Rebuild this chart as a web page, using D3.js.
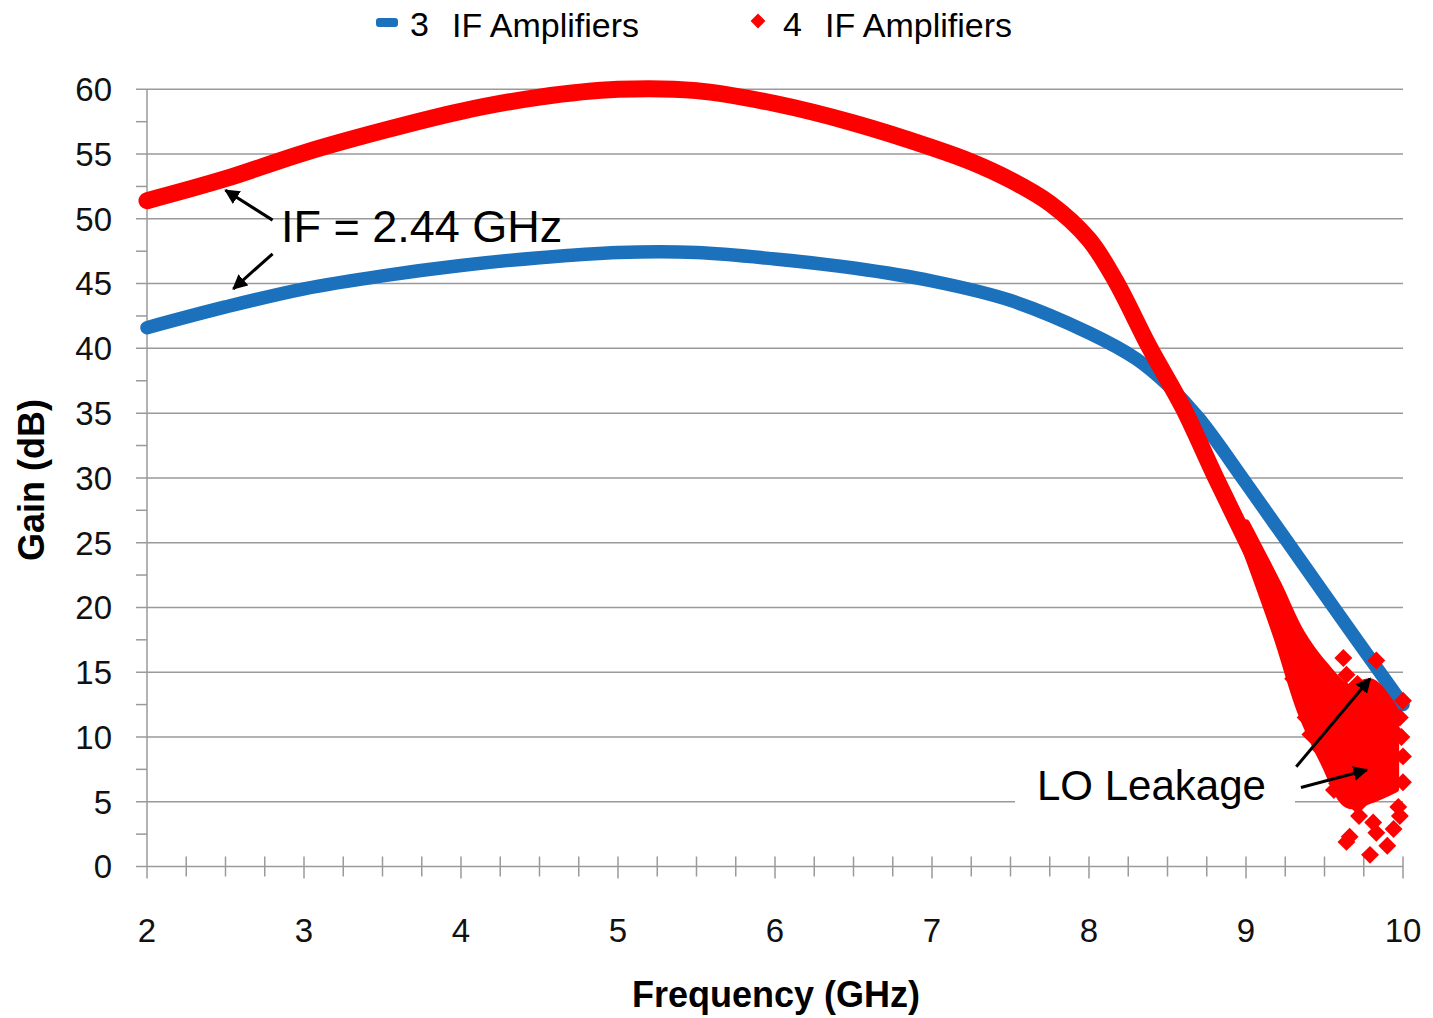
<!DOCTYPE html>
<html>
<head>
<meta charset="utf-8">
<script src="https://cdn.jsdelivr.net/npm/d3@7"></script>
<style>
  body { margin: 0; background: #fff; }
  text { font-family: "Liberation Sans", Arial, sans-serif; }
</style>
</head>
<body>
<svg></svg>
<script>
// 3 IF amplifiers (blue line)
var freq3 = [2.0, 2.5, 3.0, 3.5, 4.0, 4.5, 5.0, 5.5, 6.0, 6.5, 7.0, 7.5, 8.0, 8.3, 8.5, 8.7, 9.0, 9.5, 10.0];
var gain3 = [41.6, 43.2, 44.6, 45.6, 46.4, 47.0, 47.4, 47.4, 46.9, 46.2, 45.2, 43.7, 41.2, 39.2, 37.2, 34.6, 29.6, 21.0, 12.5];

// 4 IF amplifiers (red diamonds, dense band)
var freq4 = [2.0, 2.5, 3.0, 3.5, 4.0, 4.5, 5.0, 5.5, 6.0, 6.5, 7.0, 7.25, 7.5, 7.75, 8.0, 8.17, 8.38, 8.6, 8.8, 9.0, 9.2, 9.35, 9.5];
var gain4 = [51.4, 53.1, 55.1, 56.8, 58.3, 59.4, 60.0, 59.9, 58.9, 57.4, 55.5, 54.4, 53.0, 51.2, 48.4, 45.2, 40.2, 35.4, 30.2, 25.2, 20.3, 16.5, 13.0];

// spread of the red band near the end
var tailFreq = [9.0, 9.2, 9.35, 9.5, 9.65, 9.8, 9.95];
var tailHigh = [26.5, 21.8, 18.0, 15.5, 13.8, 14.2, 12.0];
var tailLow = [24.5, 17.7, 12.0, 8.0, 4.8, 5.2, 6.0];

// scattered points (LO leakage)
var leakFreq = [9.62, 9.64, 9.71, 9.83, 10.0, 9.9, 9.98, 9.41, 9.47, 9.54, 9.56, 9.6, 9.58, 9.68, 9.71, 9.72, 9.81, 9.83, 9.66, 9.64, 9.79, 9.9, 9.94, 9.98, 9.97, 10.0, 10.0, 9.99, 9.86, 9.75, 9.92, 9.88, 9.7, 9.77, 9.85, 9.94, 9.38, 9.45, 9.52, 9.3, 9.26];
var leakGain = [16.1, 14.8, 14.1, 15.9, 12.8, 12.0, 11.5, 10.2, 9.1, 8.3, 5.9, 7.0, 6.4, 5.2, 4.7, 3.9, 3.4, 2.6, 2.3, 1.9, 0.9, 1.6, 2.9, 3.9, 4.6, 6.5, 8.5, 10.0, 6.0, 6.8, 8.0, 9.5, 9.0, 11.0, 12.5, 10.5, 11.5, 12.8, 10.8, 14.5, 17.2];

var xTicks = [2, 3, 4, 5, 6, 7, 8, 9, 10];
var yTicks = [0, 5, 10, 15, 20, 25, 30, 35, 40, 45, 50, 55, 60];
var seriesNames = ["3  IF Amplifiers", "4  IF Amplifiers"];

var svgWidth = 1433, svgHeight = 1018;
var blue = "#1b71bc", red = "#ff0000";

var svg = d3.select("svg")
  .attr("width", svgWidth)
  .attr("height", svgHeight);

var x = d3.scaleLinear().domain([2, 10]).range([147, 1403]);
var y = d3.scaleLinear().domain([0, 60]).range([866.5, 89.3]);

// gridlines
svg.append("g")
  .selectAll("line")
  .data(yTicks)
  .enter().append("line")
  .attr("x1", 136).attr("x2", x(10))
  .attr("y1", function(d) { return y(d); })
  .attr("y2", function(d) { return y(d); })
  .attr("stroke", "#9a9a9a")
  .attr("stroke-width", 1.5);

// y minor ticks
svg.append("g")
  .selectAll("line")
  .data(d3.range(2.5, 60, 5))
  .enter().append("line")
  .attr("x1", 136).attr("x2", x(2))
  .attr("y1", function(d) { return y(d); })
  .attr("y2", function(d) { return y(d); })
  .attr("stroke", "#9a9a9a")
  .attr("stroke-width", 1.5);

// vertical axis line
svg.append("line")
  .attr("x1", x(2)).attr("x2", x(2))
  .attr("y1", y(60)).attr("y2", y(0) + 12)
  .attr("stroke", "#9a9a9a")
  .attr("stroke-width", 1.5);

// x ticks major + minor
svg.append("g")
  .selectAll("line")
  .data(d3.range(2.25, 10.01, 0.25))
  .enter().append("line")
  .attr("x1", function(d) { return x(d); })
  .attr("x2", function(d) { return x(d); })
  .attr("y1", y(0) - 10)
  .attr("y2", function(d) { return Math.abs(d - Math.round(d)) < 0.01 ? y(0) + 12 : y(0) + 10; })
  .attr("stroke", "#9a9a9a")
  .attr("stroke-width", 1.5);

// tick labels
svg.append("g")
  .selectAll("text")
  .data(yTicks)
  .enter().append("text")
  .attr("x", 112)
  .attr("y", function(d) { return y(d); })
  .attr("dy", "0.36em")
  .attr("text-anchor", "end")
  .attr("font-size", 33)
  .attr("fill", "#111")
  .text(function(d) { return d; });

svg.append("g")
  .selectAll("text")
  .data(xTicks)
  .enter().append("text")
  .attr("x", function(d) { return x(d); })
  .attr("y", 942)
  .attr("text-anchor", "middle")
  .attr("font-size", 33)
  .attr("fill", "#111")
  .text(function(d) { return d; });

// axis titles
svg.append("text")
  .attr("x", 776).attr("y", 1007)
  .attr("text-anchor", "middle")
  .attr("font-family", "Lato, sans-serif")
  .attr("font-weight", "bold")
  .attr("font-size", 36)
  .text("Frequency (GHz)");

svg.append("text")
  .attr("transform", "translate(44,480) rotate(-90)")
  .attr("text-anchor", "middle")
  .attr("font-family", "Lato, sans-serif")
  .attr("font-weight", "bold")
  .attr("font-size", 36)
  .text("Gain (dB)");

// blue series
var line = d3.line()
  .x(function(d) { return x(d[0]); })
  .y(function(d) { return y(d[1]); })
  .curve(d3.curveCatmullRom.alpha(0.5));

svg.append("path")
  .datum(d3.zip(freq3, gain3))
  .attr("fill", "none")
  .attr("stroke", blue)
  .attr("stroke-width", 13.5)
  .attr("stroke-linejoin", "round")
  .attr("stroke-linecap", "round")
  .attr("d", line);

// red series
var area = d3.area()
  .x(function(d) { return x(d[0]); })
  .y0(function(d) { return y(d[2]); })
  .y1(function(d) { return y(d[1]); })
  .curve(d3.curveCatmullRom.alpha(0.5));

svg.append("path")
  .datum(d3.zip(tailFreq, tailHigh, tailLow))
  .attr("fill", red)
  .attr("stroke", red)
  .attr("stroke-width", 8)
  .attr("stroke-linejoin", "round")
  .attr("d", area);

svg.append("path")
  .datum(d3.zip(freq4, gain4))
  .attr("fill", "none")
  .attr("stroke", red)
  .attr("stroke-width", 17)
  .attr("stroke-linejoin", "round")
  .attr("stroke-linecap", "round")
  .attr("d", line);

var diamond = d3.symbol().type(d3.symbolSquare).size(160);
svg.append("g")
  .selectAll("path")
  .data(d3.zip(leakFreq, leakGain))
  .enter().append("path")
  .attr("d", diamond)
  .attr("transform", function(d) { return "translate(" + x(d[0]) + "," + y(d[1]) + ") rotate(45)"; })
  .attr("fill", red);

// annotations
var defs = svg.append("defs");
defs.append("marker")
  .attr("id", "arrow")
  .attr("viewBox", "0 0 10 10")
  .attr("refX", 9).attr("refY", 5)
  .attr("markerWidth", 5).attr("markerHeight", 5)
  .attr("orient", "auto")
  .append("path")
  .attr("d", "M0,0L10,5L0,10z")
  .attr("fill", "#000");

var arrows = [
  [2.80, 49.9, 2.50, 52.2],
  [2.80, 47.3, 2.55, 44.6],
  [9.32, 7.7, 9.79, 14.5],
  [9.35, 6.1, 9.77, 7.45]
];
svg.append("g")
  .selectAll("line")
  .data(arrows)
  .enter().append("line")
  .attr("x1", function(d) { return x(d[0]); })
  .attr("y1", function(d) { return y(d[1]); })
  .attr("x2", function(d) { return x(d[2]); })
  .attr("y2", function(d) { return y(d[3]); })
  .attr("stroke", "#000")
  .attr("stroke-width", 3)
  .attr("marker-end", "url(#arrow)");

svg.append("text")
  .attr("x", 281).attr("y", 242)
  .attr("font-size", 45)
  .attr("fill", "#000")
  .text("IF = 2.44 GHz");

svg.append("rect")
  .attr("x", 1015).attr("y", 758)
  .attr("width", 280).attr("height", 50)
  .attr("fill", "#fff");

svg.append("text")
  .attr("x", 1037).attr("y", 800)
  .attr("font-family", "'Open Sans', sans-serif")
  .attr("font-size", 42)
  .attr("fill", "#000")
  .text("LO Leakage");

// legend
var legend = svg.append("g");
legend.append("rect")
  .attr("x", 376).attr("y", 18)
  .attr("width", 22).attr("height", 9)
  .attr("rx", 3)
  .attr("fill", blue);
legend.append("path")
  .attr("d", d3.symbol().type(d3.symbolSquare).size(110))
  .attr("transform", "translate(758,21) rotate(45)")
  .attr("fill", red);

legend.append("text")
  .attr("x", 410).attr("y", 36)
  .attr("font-size", 34)
  .text(seriesNames[0].slice(0, 1));
legend.append("text")
  .attr("x", 452).attr("y", 37)
  .attr("font-size", 34)
  .text(seriesNames[0].slice(3));
legend.append("text")
  .attr("x", 783).attr("y", 36)
  .attr("font-size", 34)
  .text(seriesNames[1].slice(0, 1));
legend.append("text")
  .attr("x", 825).attr("y", 37)
  .attr("font-size", 34)
  .text(seriesNames[1].slice(3));
</script>
</body>
</html>
